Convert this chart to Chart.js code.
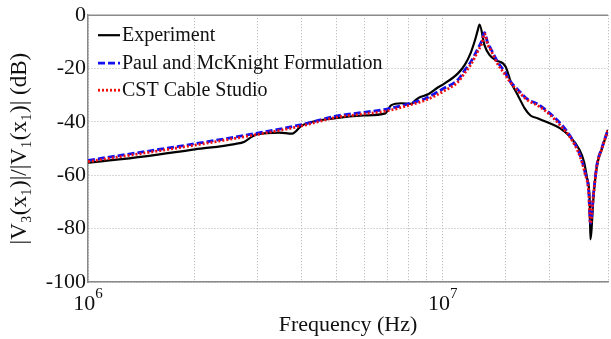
<!DOCTYPE html>
<html>
<head>
<meta charset="utf-8">
<script src="https://cdn.jsdelivr.net/npm/chart.js@4"></script>
<style>
    html, body { margin: 0; padding: 0; background: #fff; }
    canvas { display: block; }
</style>
</head>
<body>
<canvas id="chartId" width="611" height="339"></canvas>
<script>
// measured: Experiment
var expFreq = [1.0e6, 1.45e6, 2.0e6, 2.59e6, 2.76e6, 2.9e6, 3.0e6, 3.46e6, 3.76e6, 4.01e6,
    4.99e6, 5.98e6, 6.89e6, 7.05e6, 7.16e6, 7.64e6, 8.15e6, 8.35e6, 8.52e6, 9.09e6,
    9.70e6, 10.0e6, 11.03e6, 11.54e6, 11.99e6, 12.31e6, 12.55e6, 12.69e6, 13.10e6, 13.53e6,
    14.09e6, 15.03e6, 15.52e6, 16.24e6, 16.99e6, 17.66e6, 18.48e6, 19.92e6, 21.42e6, 22.85e6,
    24.21e6, 25.0e6, 25.49e6, 25.94e6, 26.04e6, 26.62e6, 27.18e6, 28.07e6, 29.2e6];
var expDb = [-55.3, -52.9, -50.3, -48.3, -47.4, -45.5, -44.6, -44.0, -44.4, -41.3,
    -38.6, -37.6, -36.8, -34.8, -33.7, -33.0, -33.2, -32.0, -31.1, -29.6,
    -27.0, -26.0, -21.8, -18.5, -14.0, -9.5, -5.5, -3.5, -11.2, -14.9,
    -16.8, -19.3, -24.8, -29.8, -34.8, -37.6, -38.6, -40.4, -42.4, -45.6,
    -50.2, -55.0, -61.0, -70.0, -84.0, -67.0, -56.5, -50.0, -43.0];

// Paul and McKnight / CST share the frequency grid
var simFreq = [1.0e6, 2.0e6, 3.0e6, 4.0e6, 5.0e6, 6.0e6, 7.0e6, 8.0e6, 9.0e6, 10.0e6,
    11.03e6, 11.54e6, 11.99e6, 12.55e6, 12.88e6, 13.10e6, 13.38e6, 13.64e6, 14.27e6, 14.93e6,
    15.52e6, 16.24e6, 17.32e6, 18.48e6, 19.92e6, 21.42e6, 22.85e6, 24.37e6, 25.17e6, 25.77e6,
    26.04e6, 26.62e6, 27.18e6, 28.07e6, 29.2e6];
var paulDb = [-54.4, -48.2, -44.2, -41.0, -37.8, -36.4, -35.1, -33.2, -31.0, -27.6,
    -24.2, -20.5, -17.5, -12.5, -9.5, -6.5, -10.5, -12.5, -17.5, -21.2,
    -25.0, -27.8, -31.5, -33.3, -36.5, -40.5, -45.3, -52.5, -59.0, -66.0,
    -78.0, -66.0, -56.0, -49.7, -42.8];
var cstDb = [-54.9, -48.7, -44.7, -41.5, -38.3, -37.0, -35.8, -33.8, -31.7, -28.6,
    -25.0, -21.5, -18.5, -13.5, -10.5, -7.0, -11.0, -13.0, -18.3, -22.0,
    -25.3, -28.3, -31.8, -33.8, -37.0, -41.3, -45.8, -53.0, -59.5, -66.5,
    -78.0, -66.3, -56.3, -50.0, -43.0];

var seriesNames = ['Experiment', 'Paul and McKnight Formulation', 'CST Cable Studio'];
var decadeTicks = [1e6, 1e7];
var decadeExp = ['6', '7'];
var yMin = -100, yMax = 0, yStep = 20;
var xMin = 1e6, xMax = 2.92e7;

function pts(xs, ys) {
    var out = [];
    for (var i = 0; i < xs.length; i++) out.push({ x: xs[i], y: ys[i] });
    return out;
}

var serif = "'Liberation Serif', 'Times New Roman', serif";

var extras = {
    id: 'extras',
    afterDraw: function (chart) {
        var ctx = chart.ctx, a = chart.chartArea;
        ctx.save();
        // top frame line
        ctx.strokeStyle = '#8a8a8a';
        ctx.lineWidth = 1.5;
        ctx.beginPath();
        ctx.moveTo(a.left, a.top);
        ctx.lineTo(a.right, a.top);
        ctx.stroke();

        // decade labels 10^n with a real superscript
        var xs = chart.scales.x;
        ctx.fillStyle = '#111';
        ctx.textBaseline = 'alphabetic';
        ctx.textAlign = 'left';
        decadeTicks.forEach(function (v, i) {
            var px = xs.getPixelForValue(v);
            ctx.font = '22px ' + serif;
            var wb = ctx.measureText('10').width;
            ctx.font = '15px ' + serif;
            var we = ctx.measureText(decadeExp[i]).width;
            var x0 = px - (wb + we) / 2;
            ctx.font = '22px ' + serif;
            ctx.fillText('10', x0, a.bottom + 28);
            ctx.font = '15px ' + serif;
            ctx.fillText(decadeExp[i], x0 + wb, a.bottom + 16);
        });

        // legend entries inside the plot
        var rows = [20, 48, 75];
        chart.data.datasets.forEach(function (ds, i) {
            var y = a.top + rows[i];
            ctx.strokeStyle = ds.borderColor;
            ctx.lineWidth = ds.borderWidth;
            ctx.setLineDash(ds.borderDash || []);
            ctx.beginPath();
            ctx.moveTo(a.left + 10, y);
            ctx.lineTo(a.left + 32, y);
            ctx.stroke();
            ctx.setLineDash([]);
            ctx.fillStyle = '#111';
            ctx.font = '20px ' + serif;
            ctx.textBaseline = 'middle';
            ctx.fillText(ds.label, a.left + 34, y + 1);
        });
        ctx.restore();
    }
};

var chrt = document.getElementById('chartId').getContext('2d');
var chartId = new Chart(chrt, {
    type: 'line',
    data: {
        datasets: [{
            label: seriesNames[0],
            data: pts(expFreq, expDb),
            borderColor: '#000000',
            borderWidth: 2.2,
            order: 2
        }, {
            label: seriesNames[1],
            data: pts(simFreq, paulDb),
            borderColor: '#1010f0',
            borderWidth: 2.8,
            borderDash: [7, 3],
            order: 1
        }, {
            label: seriesNames[2],
            data: pts(simFreq, cstDb),
            borderColor: '#f01010',
            borderWidth: 2.8,
            borderDash: [2, 2],
            order: 0
        }]
    },
    plugins: [extras],
    options: {
        responsive: false,
        animation: false,
        devicePixelRatio: 1,
        layout: { padding: { left: 0, top: 13, right: 0, bottom: 0 } },
        elements: {
            point: { radius: 0 },
            line: { cubicInterpolationMode: 'monotone', fill: false }
        },
        plugins: {
            legend: { display: false },
            tooltip: { enabled: false }
        },
        scales: {
            x: {
                type: 'logarithmic',
                min: xMin,
                max: xMax,
                afterFit: function (scale) { scale.height = 57; },
                ticks: {
                    autoSkip: false,
                    maxRotation: 0,
                    callback: function () { return ''; }
                },
                grid: { color: '#b0b0b0', lineWidth: 1, drawTicks: false },
                border: { color: '#8a8a8a', width: 1.5, dash: [1, 2] },
                title: {
                    display: true,
                    text: 'Frequency (Hz)',
                    color: '#111',
                    font: { family: serif, size: 22 },
                    padding: { top: 0, bottom: 1 }
                }
            },
            y: {
                min: yMin,
                max: yMax,
                afterFit: function (scale) { scale.width = 88; },
                ticks: {
                    stepSize: yStep,
                    padding: 2,
                    color: '#111',
                    font: { family: serif, size: 22 }
                },
                grid: { color: '#b0b0b0', lineWidth: 1, drawTicks: false },
                border: { color: '#8a8a8a', width: 1.5, dash: [1, 2] },
                title: {
                    display: true,
                    text: '|V\u2083(x\u2081)|/|V\u2081(x\u2081)| (dB)',
                    color: '#111',
                    font: { family: serif, size: 23 },
                    padding: { top: 6, bottom: 0 }
                }
            }
        }
    }
});
</script>
</body>
</html>
